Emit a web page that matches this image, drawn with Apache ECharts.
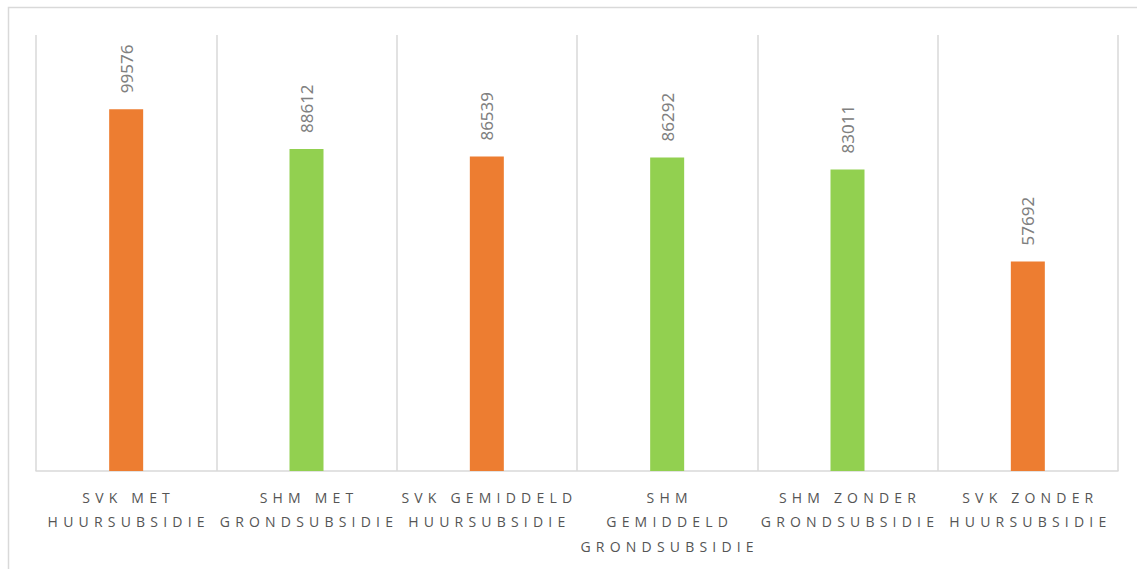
<!DOCTYPE html>
<html>
<head>
<meta charset="utf-8">
<script src="https://cdn.jsdelivr.net/npm/echarts@6/dist/echarts.min.js"></script>
<style>
  html, body { margin: 0; padding: 0; background: #fff; }
  #chart { width: 1137px; height: 569px; }
  #chart svg text[style*="Open Sans"], #chart svg text[font-family*="Open Sans"] { letter-spacing: 5.2px; }
</style>
</head>
<body>
<div id="chart"></div>
<script>
const categories = [
  'SVK MET\nHUURSUBSIDIE',
  'SHM MET\nGRONDSUBSIDIE',
  'SVK GEMIDDELD\nHUURSUBSIDIE',
  'SHM\nGEMIDDELD\nGRONDSUBSIDIE',
  'SHM ZONDER\nGRONDSUBSIDIE',
  'SVK ZONDER\nHUURSUBSIDIE'
];
const values = [99576, 88612, 86539, 86292, 83011, 57692];
const yMax = 120000;

const ORANGE = '#ED7D31';
const GREEN = '#92D050';

const chart = echarts.init(document.getElementById('chart'), null, { renderer: 'svg' });
chart.setOption({
  animation: false,
  backgroundColor: '#ffffff',
  graphic: [{
    type: 'rect',
    shape: { x: 8.5, y: 7.5, width: 1300, height: 700 },
    style: { fill: 'none', stroke: '#d9d9d9', lineWidth: 1.5 },
    silent: true
  }],
  grid: { left: 36, right: 19, top: 35, bottom: 98 },
  xAxis: {
    type: 'category',
    data: categories,
    axisTick: { show: false },
    axisLine: { lineStyle: { color: '#d9d9d9', width: 1.5 } },
    splitLine: { show: true, lineStyle: { color: '#d9d9d9', width: 1.5 } },
    axisLabel: {
      interval: 0,
      margin: 14,
      color: '#555555',
      fontFamily: 'Open Sans',
      fontSize: 14,
      lineHeight: 24.5,
      padding: [0, 0, 0, 5]
    }
  },
  yAxis: {
    type: 'value',
    min: 0,
    max: yMax,
    show: false,
    splitLine: { show: false }
  },
  series: [{
    type: 'bar',
    data: values,
    barWidth: 34,
    itemStyle: {
      color: p => categories[p.dataIndex].startsWith('SVK') ? ORANGE : GREEN
    },
    label: {
      show: true,
      position: 'top',
      rotate: 90,
      align: 'left',
      verticalAlign: 'middle',
      distance: 16,
      color: '#808080',
      fontFamily: 'Noto Sans',
      fontSize: 17
    }
  }]
});
</script>
</body>
</html>
